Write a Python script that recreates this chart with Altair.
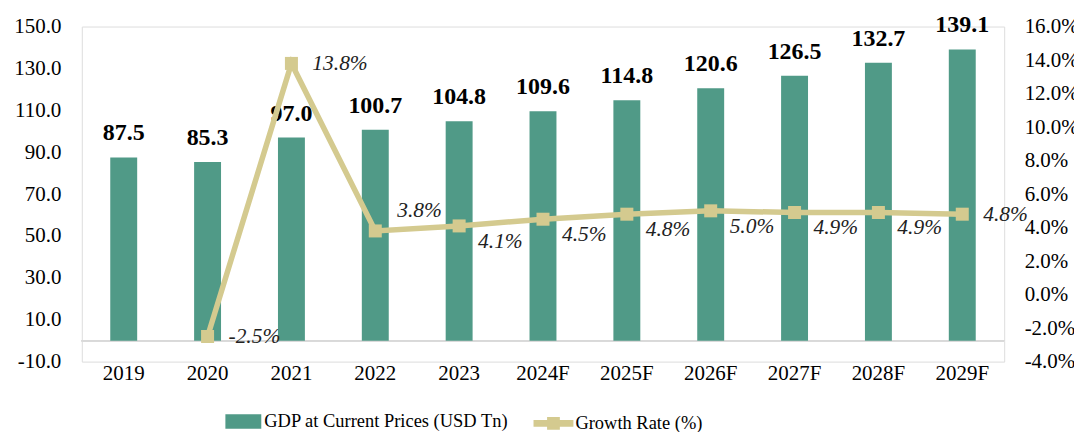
import altair as alt
import pandas as pd

years = ["2019", "2020", "2021", "2022", "2023", "2024F", "2025F", "2026F", "2027F", "2028F", "2029F"]
gdp = [87.5, 85.3, 97.0, 100.7, 104.8, 109.6, 114.8, 120.6, 126.5, 132.7, 139.1]
growth = [None, -2.5, 13.8, 3.8, 4.1, 4.5, 4.8, 5.0, 4.9, 4.9, 4.8]
left_ticks = [-10, 10, 30, 50, 70, 90, 110, 130, 150]
right_ticks = [-4, -2, 0, 2, 4, 6, 8, 10, 12, 14, 16]
bar_name = "GDP at Current Prices (USD Tn)"
line_name = "Growth Rate (%)"

df = pd.DataFrame({"year": years, "gdp": gdp, "growth": growth,
                   "bar_series": bar_name, "line_series": line_name})

FONT = "Liberation Serif"
BAR_C = "#509a87"
LINE_C = "#d4ca8f"

RIGHT_LAB = ["2020", "2021", "2029F"]
ABOVE_LAB = ["2022"]
BELOW_LAB = ["2023", "2024F", "2025F", "2026F", "2027F", "2028F"]

# hyphen-minus instead of the unicode minus sign
def fmt(expr):
    return f"replace(format({expr}, '.1f'), '\u2212', '-')"

x = alt.X("year:N", sort=years, title=None,
          scale=alt.Scale(paddingInner=0.68, paddingOuter=0.34),
          axis=alt.Axis(labelAngle=0, ticks=False, domain=False, labelPadding=1,
                        labelFont=FONT, labelFontSize=21, labelColor="#000"))

yl = alt.Y("gdp:Q", title=None,
           scale=alt.Scale(domain=[-10, 150], nice=False, zero=False),
           axis=alt.Axis(values=left_ticks, grid=False, ticks=False, domain=False,
                         labelExpr=fmt("datum.value"), labelPadding=21, labelOverlap=False,
                         labelFont=FONT, labelFontSize=21, labelColor="#000"))

base = alt.Chart(df)

rule = base.mark_rule(color="#d9d9d9", strokeWidth=1.5).encode(y=alt.datum(0))

bars = base.mark_bar(size=27).encode(
    x=x, y=yl, y2=alt.datum(0),
    color=alt.Color("bar_series:N",
                    scale=alt.Scale(domain=[bar_name], range=[BAR_C]),
                    legend=alt.Legend(orient="none", legendX=144, legendY=378, title=None,
                                      symbolType="M-1,-0.4H1V0.4H-1Z", symbolSize=1296,
                                      symbolStrokeWidth=0, labelFont=FONT, labelFontSize=18.5,
                                      labelColor="#000", labelOffset=3, padding=0,
                                      labelLimit=500)))

bar_labels = base.mark_text(font=FONT, fontSize=24, fontWeight="bold", dy=-17,
                            baseline="alphabetic", color="#000").encode(
    x=x, y=yl, text=alt.Text("gdp:Q", format=".1f"))

left = alt.layer(rule, bars, bar_labels)

yr = alt.Y("growth:Q", title=None,
           scale=alt.Scale(domain=[-4, 16], nice=False, zero=False),
           axis=alt.Axis(orient="right", values=right_ticks, grid=False, ticks=False, domain=False,
                         labelExpr=fmt("datum.value") + " + '%'", labelPadding=20,
                         labelOverlap=False, tickCount=11,
                         labelFont=FONT, labelFontSize=21, labelColor="#000"))

gbase = base.transform_filter("isValid(datum.growth)")

line = gbase.mark_line(color=LINE_C, strokeWidth=5.5).encode(x=x, y=yr)
pts = gbase.mark_point(filled=True, shape="square", size=170, opacity=1).encode(
    x=x, y=yr,
    color=alt.Color("line_series:N",
                    scale=alt.Scale(domain=[line_name], range=[LINE_C]),
                    legend=alt.Legend(orient="none", legendX=453, legendY=378, title=None,
                                      symbolType="M-1,-0.17H1V0.17H-1Z M-0.32,-0.32H0.32V0.32H-0.32Z",
                                      symbolSize=1600, symbolStrokeWidth=0,
                                      labelFont=FONT, labelFontSize=18.5,
                                      labelColor="#000", labelOffset=2, padding=0,
                                      labelLimit=500)))


def growth_labels(sel, dx, dy):
    return gbase.transform_filter(
        alt.FieldOneOfPredicate(field="year", oneOf=sel)
    ).transform_calculate(
        lab=fmt("datum.growth") + " + '%'"
    ).mark_text(
        font=FONT, fontSize=21.5, fontStyle="italic", align="left", baseline="middle",
        dx=dx, dy=dy, color="#222"
    ).encode(x=x, y=yr, text="lab:N")


lab_r = growth_labels(RIGHT_LAB, 21, 1)
lab_a = growth_labels(ABOVE_LAB, 22, -20)
lab_b = growth_labels(BELOW_LAB, 19, 16)

right = alt.layer(line, pts, lab_r, lab_a, lab_b)

chart = alt.layer(left, right).resolve_scale(y="independent", color="independent").properties(
    width=925, height=336,
    autosize=alt.AutoSizeParams(type="none"),
    padding={"left": 74, "top": 18, "right": 70, "bottom": 80},
).configure_view(stroke=None).configure_axis(labelOverlap=False).configure(background="#ffffff")

chart.save("out.html", embed_options={"renderer": "svg", "actions": False})
